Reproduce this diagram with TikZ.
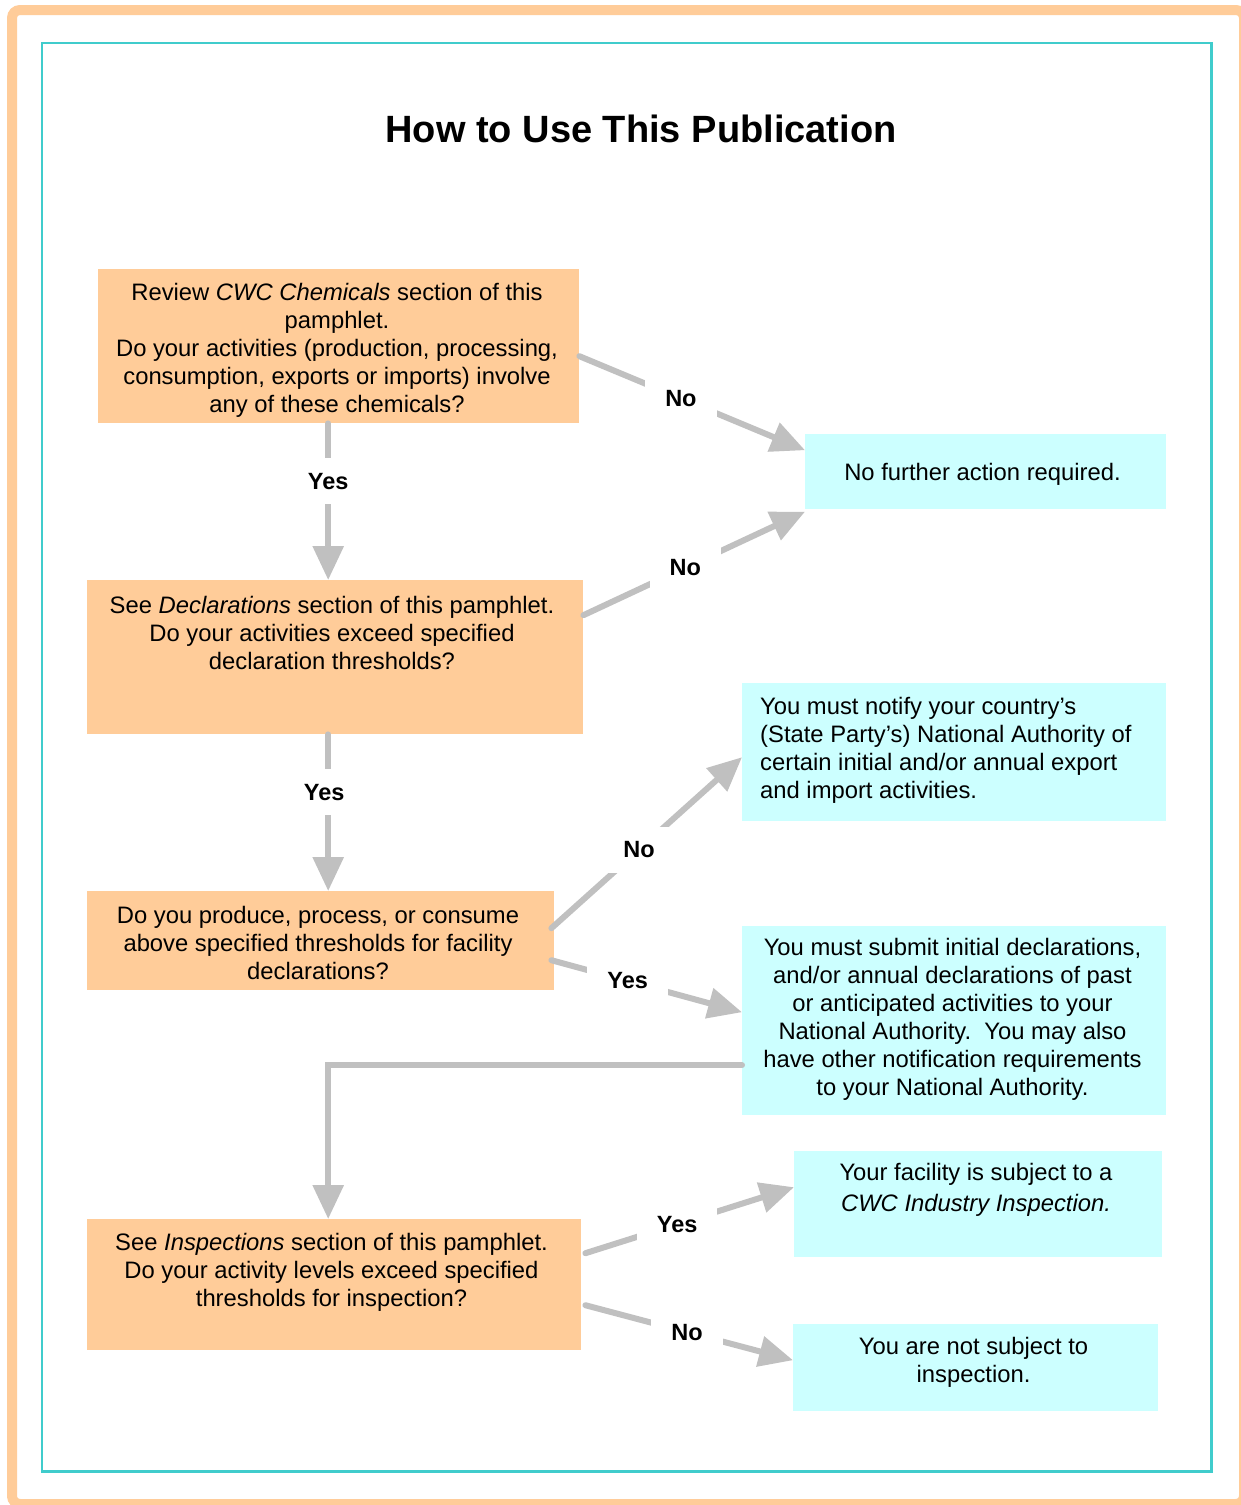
\documentclass[tikz,border=0pt]{standalone}
\usepackage{fontspec}
\setmainfont{Liberation Sans}
\usetikzlibrary{arrows.meta,calc}
\definecolor{peach}{HTML}{FFCC99}
\definecolor{paleCyan}{HTML}{CCFFFF}
\definecolor{arrowGray}{HTML}{C0C0C0}
\definecolor{tealLine}{HTML}{40CCCC}
\begin{document}
\begin{tikzpicture}[x=1pt,y=-1pt,
 obox/.style={fill=peach, draw=none, inner sep=0pt, anchor=north west},
 cbox/.style={fill=paleCyan, draw=none, inner sep=0pt, anchor=north west},
 body/.style={font=\fontsize{23.8}{28}\selectfont, align=center, inner sep=0pt},
 flow/.style={draw=arrowGray, line width=6pt, line cap=round, -{Triangle[length=34pt,width=30pt]}},
 lbl/.style={fill=white, font=\bfseries\fontsize{23.5}{28}\selectfont, inner xsep=20pt, inner ysep=0pt, minimum height=46pt, text=black}]
\useasboundingbox (0,0) rectangle (1241,1505);
\fill[white] (0,0) rectangle (1241,1505);
\draw[peach, line width=10pt, rounded corners=8pt] (12,10) rectangle (1244,1504);
\draw[tealLine, line width=2.2pt] (41.7,42.8) rectangle (1211.5,1471.5);

\node[font=\bfseries\fontsize{38}{44}\selectfont] (title) at (641,129) {How to Use This Publication};

% boxes
\node[obox, minimum width=481pt, minimum height=154pt] (A) at (98,269) {};
\node[obox, minimum width=496pt, minimum height=154pt] (B) at (87,580) {};
\node[obox, minimum width=467pt, minimum height=99pt] (C) at (87,891) {};
\node[obox, minimum width=494pt, minimum height=131pt] (D) at (87,1219) {};
\node[cbox, minimum width=361pt, minimum height=75pt] (E) at (805,434) {};
\node[cbox, minimum width=424pt, minimum height=138pt] (F) at (742,683) {};
\node[cbox, minimum width=424pt, minimum height=189pt] (G) at (742,926) {};
\node[cbox, minimum width=368pt, minimum height=106pt] (H) at (794,1151) {};
\node[cbox, minimum width=365pt, minimum height=87pt] (I) at (793,1324) {};

% texts
\node[body] (tA) at (337,350) {Review \textit{CWC Chemicals} section of this\\pamphlet.\\Do your activities (production, processing,\\consumption, exports or imports) involve\\any of these chemicals?};
\node[body] (tB) at (332,633) {See \textit{Declarations} section of this pamphlet.\\Do your activities exceed specified\\declaration thresholds?};
\node[body] (tC) at (318,943) {Do you produce, process, or consume\\above specified thresholds for facility\\declarations?};
\node[body] (tD) at (331.5,1272) {See \textit{Inspections} section of this pamphlet.\\Do your activity levels exceed specified\\thresholds for inspection?};
\node[body] (tE) at (982.5,474) {No further action required.};
\node[body, align=left, anchor=west] (tF) at (760,750) {You must notify your country’s\\(State Party’s) National Authority of\\certain initial and/or annual export\\and import activities.};
\node[body] (tG) at (952.5,1019.5) {You must submit initial declarations,\\and/or annual declarations of past\\or anticipated activities to your\\National Authority.\ \ You may also\\have other notification requirements\\to your National Authority.};
\node[body, font=\fontsize{23.8}{31}\selectfont] (tH) at (976,1189.5) {Your facility is subject to a\\\textit{CWC Industry Inspection.}};
\node[body] (tI) at (973.5,1362.5) {You are not subject to\\inspection.};

% connectors
\draw[flow] ([yshift=-10pt]A.east) -- node[lbl, pos=0.45] (l1) {No} ([yshift=21.5pt]E.west);
\draw[flow] ([xshift=-10.5pt]A.south) -- node[lbl, pos=0.37] (l2) {Yes} ([xshift=-10.5pt]A.south |- B.north);
\draw[flow] ([yshift=42pt]B.east) -- node[lbl, pos=0.46] (l3) {No} ([yshift=-40pt]E.west);
\draw[flow] ([xshift=-7pt]B.south) -- node[lbl, pos=0.37, xshift=-4pt] (l4) {Yes} ([xshift=-7pt]B.south |- C.north);
\draw[flow] ([xshift=-3pt,yshift=12.5pt]C.east) -- node[lbl, pos=0.46] (l5) {No} ([yshift=-5pt]F.west);
\draw[flow] ([xshift=-3pt,yshift=-19.5pt]C.east) -- node[lbl, pos=0.40] (l6) {Yes} ([yshift=8.5pt]G.west);
\draw[flow] ([yshift=-44.5pt]G.west) -| ([xshift=-6pt]D.north);
\draw[flow] ([xshift=4pt,yshift=31.5pt]D.east) -- node[lbl, pos=0.44] (l7) {Yes} ([yshift=17pt]H.west);
\draw[flow] ([xshift=4pt,yshift=-20.5pt]D.east) -- node[lbl, pos=0.49] (l8) {No} ([yshift=7.5pt]I.west);
\end{tikzpicture}
\end{document}
